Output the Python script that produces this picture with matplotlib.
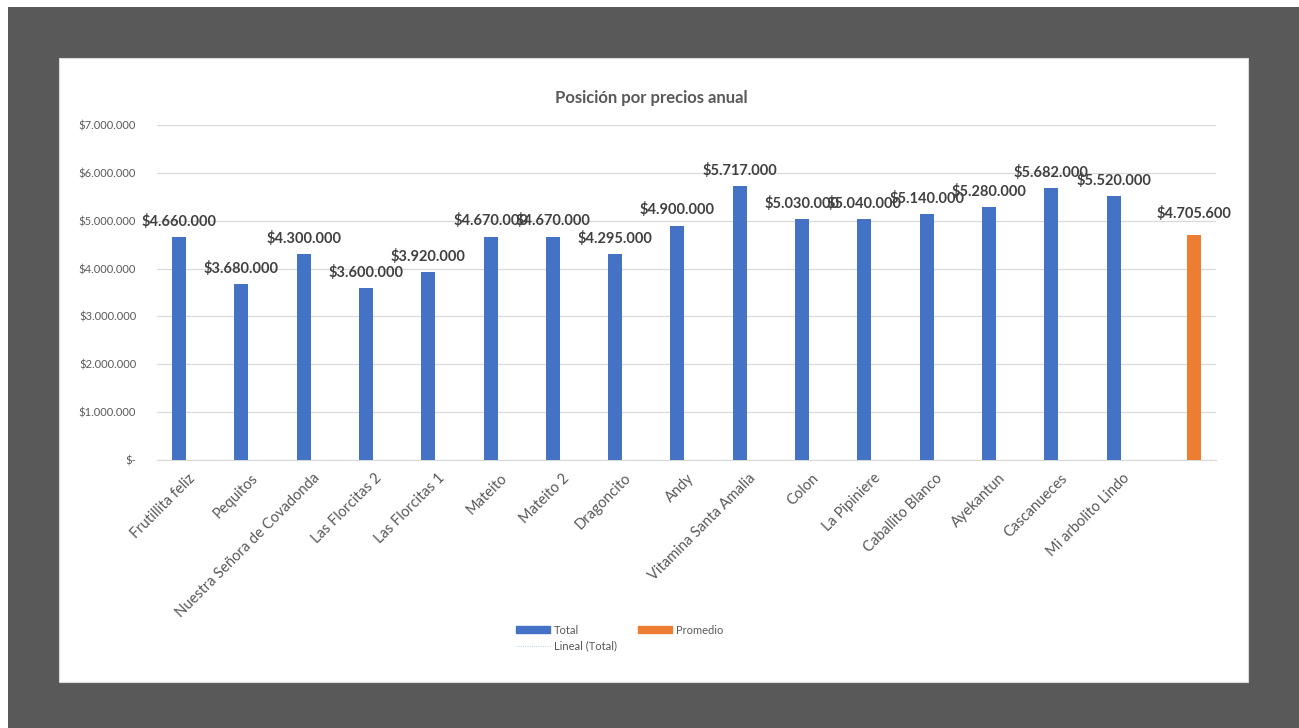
import numpy as np
import matplotlib.pyplot as plt
from matplotlib.patches import Rectangle, Patch
from matplotlib.lines import Line2D
from matplotlib.ticker import FuncFormatter

plt.rcParams['font.family'] = ['Lato', 'DejaVu Sans']

# datos
jardines = ['Frutillita feliz', 'Pequitos', 'Nuestra Señora de Covadonda', 'Las Florcitas 2',
            'Las Florcitas 1', 'Mateito', 'Mateito 2', 'Dragoncito', 'Andy',
            'Vitamina Santa Amalia', 'Colon', 'La Pipiniere', 'Caballito Blanco',
            'Ayekantun', 'Cascanueces', 'Mi arbolito Lindo', '']
total = [4660000, 3680000, 4300000, 3600000, 3920000, 4670000, 4670000, 4295000, 4900000,
         5717000, 5030000, 5040000, 5140000, 5280000, 5682000, 5520000]
promedio = 4705600

azul = '#4472C4'
naranja = '#ED7D31'
gris = '#595959'


def pesos(v):
    return '$' + f'{int(v):,}'.replace(',', '.')


fig = plt.figure(figsize=(12.99, 7.28), dpi=100)
fig.patch.set_facecolor('white')

# fondo gris y panel blanco
fig.patches.append(Rectangle((8 / 1299, 0), 1, 1 - 7 / 728, transform=fig.transFigure,
                             facecolor='#595959', edgecolor='none', zorder=-2))
fig.patches.append(Rectangle((59 / 1299, 1 - 682 / 728), (1248 - 59) / 1299, (682 - 58) / 728,
                             transform=fig.transFigure, facecolor='white',
                             edgecolor='#d9d9d9', linewidth=0.8, zorder=-1))

ax = fig.add_axes([157 / 1299, 1 - 460 / 728, (1216 - 157) / 1299, (460 - 125) / 728])
ax.set_facecolor('none')

n = len(jardines)
x = np.arange(n)
w = 0.225
off = 0.145

ax.bar(x[:-1] - off, total, width=w, color=azul, zorder=3)
ax.bar([x[-1] + off], [promedio], width=w, color=naranja, zorder=3)

# etiquetas de datos
for xi, v in zip(x[:-1] - off, total):
    ax.text(xi, v + 170000, pesos(v), ha='center', va='bottom',
            fontsize=10.5, fontweight='bold', color='#404040', zorder=4)
ax.text(x[-1] + off, promedio + 280000, pesos(promedio),
        ha='center', va='bottom', fontsize=10.5, fontweight='bold', color='#404040', zorder=4)

ax.set_xlim(-0.5, n - 0.5)
ax.set_ylim(0, 7000000)
ax.set_yticks(np.arange(0, 7000001, 1000000))
ax.yaxis.set_major_formatter(FuncFormatter(lambda v, p: '$-' if v == 0 else pesos(v)))
ax.grid(axis='y', color='#d9d9d9', linewidth=0.9, zorder=0)
ax.tick_params(axis='y', length=0, labelsize=8, labelcolor=gris, pad=15)
ax.set_xticks(x)
ax.set_xticklabels(jardines, rotation=45, ha='right', rotation_mode='anchor',
                   fontsize=10.5, color=gris)
ax.tick_params(axis='x', length=0, pad=8)
for s in ['top', 'right', 'left']:
    ax.spines[s].set_visible(False)
ax.spines['bottom'].set_color('#d9d9d9')

fig.text(651 / 1299, 1 - 98 / 728, 'Posición por precios anual', ha='center', va='center',
         fontsize=12, fontweight='bold', color=gris)

handles = [Patch(color=azul, label='Total'),
           Line2D([0], [0], color='#9dc3e6', linestyle=':', linewidth=0.6, label='Lineal (Total)'),
           Patch(color=naranja, label='Promedio')]
fig.legend(handles=handles, ncol=2, loc='center', bbox_to_anchor=(620 / 1299, 1 - 638 / 728),
           frameon=False, fontsize=8, handlelength=3.0, handleheight=0.6, handletextpad=0.4,
           columnspacing=1.9, labelspacing=0.4, labelcolor=gris)

fig.savefig('out.png', dpi=100)
